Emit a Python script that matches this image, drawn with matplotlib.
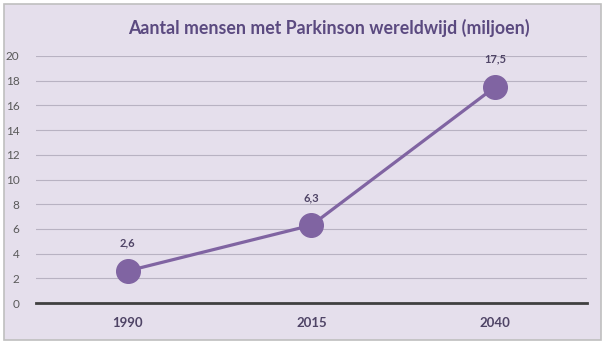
import matplotlib.pyplot as plt
from matplotlib.patches import Rectangle

jaren = ["1990", "2015", "2040"]
aantal = [2.6, 6.3, 17.5]
labels = ["2,6", "6,3", "17,5"]
y_ticks = list(range(0, 21, 2))

paars = "#8064A2"
donker = "#5B4A80"
achtergrond = "#E5DFEC"

plt.rcParams['font.family'] = ['Lato', 'DejaVu Sans']

fig = plt.figure(figsize=(6.06, 3.45), dpi=100)
fig.patch.set_facecolor("white")
# kader rond de grafiek
fig.patches.append(Rectangle((4 / 606, 5 / 345), 597 / 606, 336 / 345,
                             transform=fig.transFigure, facecolor=achtergrond,
                             edgecolor="#BFBFBF", linewidth=1.2, zorder=-1))

ax = fig.add_axes([36 / 606, 42 / 345, 551 / 606, 247 / 345])
ax.set_facecolor("none")
ax.set_zorder(2)

x = list(range(len(jaren)))
ax.plot(x, aantal, color=paars, linewidth=2.3, marker="o", markersize=17,
        zorder=3, clip_on=False)
for xi, yi, lab in zip(x, aantal, labels):
    ax.annotate(lab, (xi, yi), xytext=(0, 16), textcoords="offset points",
                ha="center", va="bottom", fontsize=8, fontweight="bold",
                color="#4F4466")

ax.set_xlim(-0.5, 2.5)
ax.set_ylim(0, 20)
ax.set_yticks(y_ticks)
ax.set_xticks(x)
ax.set_xticklabels(jaren, fontsize=9.5, fontweight="bold", color="#4F4466")
ax.tick_params(axis="y", length=0, pad=12, labelsize=8.5, labelcolor="#595959")
ax.tick_params(axis="x", length=0, pad=10)

ax.grid(axis="y", color="#B8B2C2", linewidth=0.8)
ax.set_axisbelow(True)
for s in ["top", "right", "left"]:
    ax.spines[s].set_visible(False)
ax.spines["bottom"].set_color("#404040")
ax.spines["bottom"].set_linewidth(2)

fig.text(329 / 606, 1 - 28 / 345, "Aantal mensen met Parkinson wereldwijd (miljoen)",
         ha="center", va="center", fontsize=12.8, fontweight="bold", color=donker,
         zorder=3)

plt.savefig("out.png", dpi=100)
